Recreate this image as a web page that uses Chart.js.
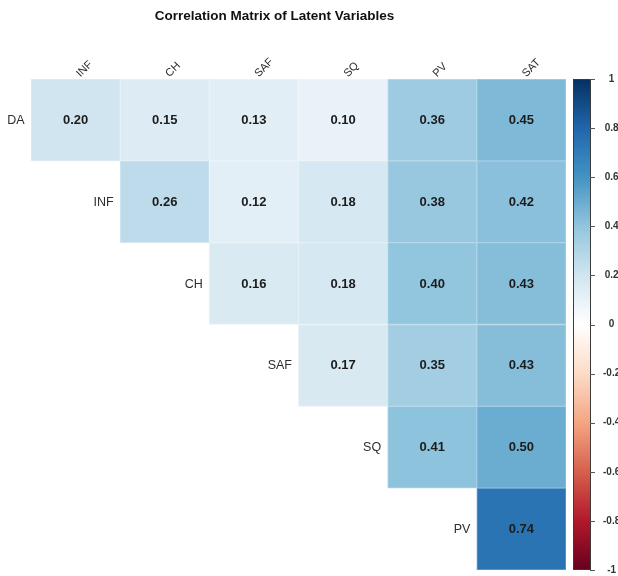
<!DOCTYPE html>
<html>
<head>
<meta charset="utf-8">
<script src="https://cdn.jsdelivr.net/npm/chart.js@4/dist/chart.umd.min.js"></script>
<style>
  html, body { margin: 0; padding: 0; background: #ffffff; }
  #wrap { width: 618px; height: 576px; position: relative; }
</style>
</head>
<body>
<div id="wrap"><canvas id="corr"></canvas></div>
<script>
const chartTitle = 'Correlation Matrix of Latent Variables';
const rowLabels = ['DA', 'INF', 'CH', 'SAF', 'SQ', 'PV'];
const colLabels = ['INF', 'CH', 'SAF', 'SQ', 'PV', 'SAT'];

// Upper-triangle correlations; each row starts at its own diagonal column.
const corrDA  = [0.20, 0.15, 0.13, 0.10, 0.36, 0.45];
const corrINF = [0.26, 0.12, 0.18, 0.38, 0.42];
const corrCH  = [0.16, 0.18, 0.40, 0.43];
const corrSAF = [0.17, 0.35, 0.43];
const corrSQ  = [0.41, 0.50];
const corrPV  = [0.74];
const corrRows = [corrDA, corrINF, corrCH, corrSAF, corrSQ, corrPV];

// Colour key tick values and the red-white-blue palette from -1 to 1.
const legendTicks = [-1, -0.8, -0.6, -0.4, -0.2, 0, 0.2, 0.4, 0.6, 0.8, 1];
const paletteStops = ['#67001F', '#B2182B', '#D6604D', '#F4A582', '#FDDBC7', '#FFFFFF',
                      '#D1E5F0', '#92C5DE', '#4393C3', '#2166AC', '#053061'];

const FONT = '"Liberation Sans", Arial, Helvetica, sans-serif';

function hexToRgb(h) {
  const n = parseInt(h.slice(1), 16);
  return [(n >> 16) & 255, (n >> 8) & 255, n & 255];
}
const paletteRgb = paletteStops.map(hexToRgb);

function colourFor(v, lighten) {
  const t = Math.max(0, Math.min(1, (v + 1) / 2)) * (paletteRgb.length - 1);
  const i = Math.min(paletteRgb.length - 2, Math.floor(t));
  const f = t - i;
  const a = paletteRgb[i], b = paletteRgb[i + 1];
  let c = a.map((x, k) => x + (b[k] - x) * f);
  if (lighten) c = c.map(x => x + (255 - x) * lighten);
  return 'rgb(' + c.map(x => Math.round(x)).join(',') + ')';
}

// One floating-bar dataset per row; a cell spans [row, row + 1] on the row axis.
const datasets = rowLabels.map((name, r) => {
  const corr = colLabels.map((c, j) => (j >= r ? corrRows[r][j - r] : null));
  return {
    label: name,
    corr: corr,
    data: colLabels.map((c, j) => (j >= r ? [r, r + 1] : null)),
    backgroundColor: ctx => colourFor(corr[ctx.dataIndex] ?? 0),
    borderColor: ctx => colourFor(corr[ctx.dataIndex] ?? 0, 0.3),
    borderWidth: 1,
    borderSkipped: false,
    grouped: false,
    barPercentage: 1,
    categoryPercentage: 1,
    yAxisID: 'y'
  };
});

const matrixDecor = {
  id: 'matrixDecor',
  afterDatasetsDraw(chart) {
    const ctx = chart.ctx;
    ctx.save();
    // cell values
    ctx.font = 'bold 13px ' + FONT;
    ctx.fillStyle = '#1c1c1c';
    ctx.textAlign = 'center';
    ctx.textBaseline = 'middle';
    chart.data.datasets.forEach((ds, r) => {
      const meta = chart.getDatasetMeta(r);
      meta.data.forEach((el, j) => {
        const v = ds.corr[j];
        if (v === null || v === undefined) return;
        ctx.fillText(v.toFixed(2), el.x, (el.y + el.base) / 2 + 0.5);
      });
    });
    // row labels beside the diagonal cells
    ctx.font = '12.5px ' + FONT;
    ctx.fillStyle = '#2e2e2e';
    ctx.textAlign = 'right';
    chart.data.datasets.forEach((ds, r) => {
      const el = chart.getDatasetMeta(r).data[r];
      ctx.fillText(ds.label, el.x - el.width / 2 - 6.5, (el.y + el.base) / 2 + 0.5);
    });
    ctx.restore();
  },
  afterDraw(chart) {
    const ctx = chart.ctx;
    const ca = chart.chartArea;
    const key = chart.scales.y2;
    ctx.save();
    // title
    ctx.font = 'bold 13.5px ' + FONT;
    ctx.fillStyle = '#111111';
    ctx.textAlign = 'center';
    ctx.textBaseline = 'middle';
    ctx.fillText(chartTitle, 274.5, 16);
    // colour key
    const x0 = ca.right + 7, x1 = ca.right + 25;
    const yTop = key.getPixelForValue(1), yBot = key.getPixelForValue(-1);
    const grad = ctx.createLinearGradient(0, yTop, 0, yBot);
    paletteStops.slice().reverse().forEach((c, i) => grad.addColorStop(i / (paletteStops.length - 1), c));
    ctx.fillStyle = grad;
    ctx.fillRect(x0, yTop, x1 - x0, yBot - yTop);
    ctx.strokeStyle = '#3a3a3a';
    ctx.lineWidth = 1;
    ctx.strokeRect(Math.round(x0) + 0.5, Math.round(yTop) + 0.5, Math.round(x1 - x0) - 1, Math.round(yBot - yTop) - 1);
    ctx.strokeStyle = '#555555';
    key.ticks.forEach(t => {
      const y = Math.round(key.getPixelForValue(t.value)) + 0.5;
      ctx.beginPath();
      ctx.moveTo(x1 - 1, y);
      ctx.lineTo(x1 + 4, y);
      ctx.stroke();
    });
    ctx.restore();
  }
};

new Chart(document.getElementById('corr'), {
  type: 'bar',
  data: { labels: colLabels, datasets: datasets },
  options: {
    responsive: true,
    maintainAspectRatio: false,
    animation: false,
    layout: { padding: { left: 31, right: 0, top: 0, bottom: 6 } },
    plugins: {
      legend: { display: false },
      title: { display: false },
      tooltip: { enabled: false }
    },
    scales: {
      x: {
        type: 'category',
        position: 'top',
        grid: { display: false, drawTicks: false },
        border: { display: false },
        ticks: {
          autoSkip: false,
          minRotation: 45,
          maxRotation: 45,
          padding: -1,
          labelOffset: 12,
          color: '#2a2a2a',
          font: { family: FONT, size: 11 }
        },
        afterFit(scale) {
          scale.height = 79;
          scale.paddingLeft = 0;
          scale.paddingRight = 0;
        }
      },
      y: {
        type: 'linear',
        min: 0,
        max: rowLabels.length,
        reverse: true,
        display: false
      },
      y2: {
        type: 'linear',
        position: 'right',
        min: -1,
        max: 1,
        grid: { drawOnChartArea: false, drawTicks: false },
        border: { display: false },
        afterBuildTicks(scale) { scale.ticks = legendTicks.map(v => ({ value: v })); },
        ticks: {
          crossAlign: 'center',
          padding: 37,
          color: '#333333',
          font: { family: FONT, size: 10, weight: 'bold' },
          callback: v => String(Math.round(v * 10) / 10)
        },
        afterFit(scale) {
          scale.width = 52;
          scale.paddingTop = 0;
          scale.paddingBottom = 0;
        }
      }
    }
  },
  plugins: [matrixDecor]
});
</script>
</body>
</html>
